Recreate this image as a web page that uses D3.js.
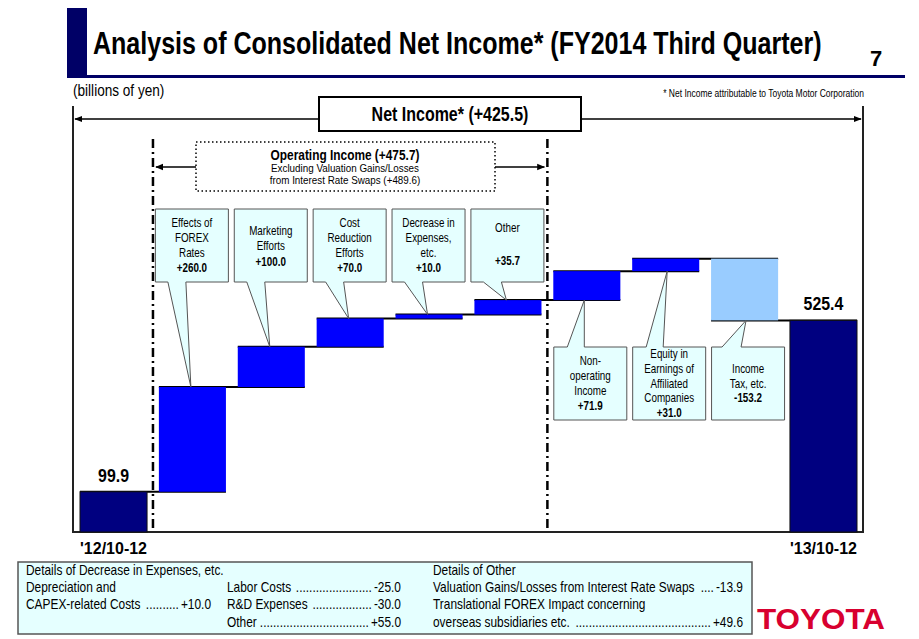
<!DOCTYPE html>
<html>
<head>
<meta charset="utf-8">
<script src="https://cdn.jsdelivr.net/npm/d3@7"></script>
<style>
  body { margin: 0; background: #fff; }
  text { font-family: "Liberation Sans", Arial, sans-serif; }
</style>
</head>
<body>
<div id="canvas"></div>
<script>
"use strict"

/* data (billions of yen) */
let categories = ["start", "forex", "marketing", "cost", "expenses", "other", "nonop", "equity", "tax", "end"];
let values = [99.9, 260.0, 100.0, 70.0, 10.0, 35.7, 71.9, 31.0, -153.2, 525.4];
let barKinds = ["total", "up", "up", "up", "up", "up", "up", "up", "down", "total"];
let periodLabels = ["'12/10-12", "'13/10-12"];

let calloutLines = [
  null,
  ["Effects of", "FOREX", "Rates"],
  ["Marketing", "Efforts"],
  ["Cost", "Reduction", "Efforts"],
  ["Decrease in", "Expenses,", "etc."],
  ["Other"],
  ["Non-", "operating", "Income"],
  ["Equity in", "Earnings of", "Affiliated", "Companies"],
  ["Income", "Tax, etc."],
  null
];
let calloutValues = [null, "+260.0", "+100.0", "+70.0", "+10.0", "+35.7", "+71.9", "+31.0", "-153.2", null];

/* details table: [label, value] */
let expenseDetails = [
  ["Depreciation and", ""],
  ["CAPEX-related Costs", "+10.0"]
];
let expenseDetails2 = [
  ["Labor Costs", "-25.0"],
  ["R&D Expenses", "-30.0"],
  ["Other", "+55.0"]
];
let otherDetails = [
  ["Valuation Gains/Losses from Interest Rate Swaps", "-13.9"],
  ["Translational FOREX Impact concerning", ""],
  ["overseas subsidiaries etc.", "+49.6"]
];

/* running totals for the waterfall */
let steps = [];
let running = 0;
values.forEach(function (v, i) {
  if (barKinds[i] === "total") {
    steps.push({ start: 0, end: v });
    running = v;
  } else {
    steps.push({ start: running, end: running + v });
    running += v;
  }
});

let drawing = d3.select("#canvas")
  .append("svg")
  .attr("width", 919)
  .attr("height", 639);

/* narrow text: regular font squeezed horizontally */
function ntext(px, py, str, size, opts) {
  opts = opts || {};
  let sx = opts.sx || 0.82;
  let t = drawing.append("text")
    .attr("transform", "translate(" + px + "," + py + ") scale(" + sx + ",1)")
    .attr("font-size", size)
    .attr("font-weight", opts.bold ? "bold" : "normal")
    .attr("text-anchor", opts.anchor || "start")
    .attr("fill", opts.fill || "#000")
    .text(str);
  return t;
}

let x = d3.scaleBand()
  .domain(categories)
  .range([80, 857])
  .paddingInner(0.15)
  .paddingOuter(0);

let y = d3.scaleLinear()
  .domain([0, 700])
  .range([532, 250]);

/* arrow marker */
let defs = drawing.append("defs");
defs.append("marker")
  .attr("id", "arrow")
  .attr("viewBox", "0 0 10 10")
  .attr("refX", 9)
  .attr("refY", 5)
  .attr("markerWidth", 8)
  .attr("markerHeight", 8)
  .attr("markerUnits", "userSpaceOnUse")
  .attr("orient", "auto-start-reverse")
  .append("path")
  .attr("d", "M0,1 L10,5 L0,9 Z")
  .attr("fill", "#000");

/* title block */
drawing.append("rect")
  .attr("x", 67).attr("y", 8)
  .attr("width", 20).attr("height", 68)
  .attr("fill", "#000066");

drawing.append("rect")
  .attr("x", 67).attr("y", 75)
  .attr("width", 838).attr("height", 3)
  .attr("fill", "#000066");

let title = ntext(93, 54, "Analysis of Consolidated Net Income* (FY2014 Third Quarter)", 31, { bold: true, sx: 1 });
let titleW = title.node().getComputedTextLength();
title.attr("transform", "translate(93,54) scale(" + (729 / titleW) + ",1)");

drawing.append("text")
  .attr("x", 870).attr("y", 66)
  .attr("font-size", 22)
  .attr("font-weight", "bold")
  .text("7");

ntext(73, 96, "(billions of yen)", 16, { sx: 0.85 });

ntext(864, 97, "* Net Income attributable to Toyota Motor Corporation", 10, { anchor: "end", sx: 0.85 });

/* frame */
drawing.append("path")
  .attr("d", "M73,106 L73,532 L863,532 L863,106")
  .attr("fill", "none")
  .attr("stroke", "#222")
  .attr("stroke-width", 2);

/* net income arrow and box */
drawing.append("line")
  .attr("x1", 318).attr("y1", 119).attr("x2", 75).attr("y2", 119)
  .attr("stroke", "#000").attr("stroke-width", 1.5)
  .attr("marker-end", "url(#arrow)");
drawing.append("line")
  .attr("x1", 581).attr("y1", 119).attr("x2", 861).attr("y2", 119)
  .attr("stroke", "#000").attr("stroke-width", 1.5)
  .attr("marker-end", "url(#arrow)");
drawing.append("rect")
  .attr("x", 319).attr("y", 97)
  .attr("width", 262).attr("height", 34)
  .attr("fill", "#fff")
  .attr("stroke", "#000")
  .attr("stroke-width", 2);
ntext(450, 121, "Net Income* (+425.5)", 19.5, { bold: true, anchor: "middle" });

/* operating income dash-dot boundaries */
let opLeft = (x("start") + x.bandwidth() + x("forex")) / 2;
let opRight = (x("other") + x.bandwidth() + x("nonop")) / 2;
[opLeft, opRight].forEach(function (lx) {
  drawing.append("line")
    .attr("x1", lx).attr("y1", 139)
    .attr("x2", lx).attr("y2", 531)
    .attr("stroke", "#000")
    .attr("stroke-width", 2.5)
    .attr("stroke-dasharray", "9,4,2,4");
});

/* operating income box */
drawing.append("line")
  .attr("x1", 196).attr("y1", 167).attr("x2", opLeft + 3).attr("y2", 167)
  .attr("stroke", "#000").attr("stroke-width", 1.5)
  .attr("marker-end", "url(#arrow)");
drawing.append("line")
  .attr("x1", 495).attr("y1", 167).attr("x2", opRight - 3).attr("y2", 167)
  .attr("stroke", "#000").attr("stroke-width", 1.5)
  .attr("marker-end", "url(#arrow)");
drawing.append("rect")
  .attr("x", 196).attr("y", 142)
  .attr("width", 299).attr("height", 49)
  .attr("fill", "#fff")
  .attr("stroke", "#000")
  .attr("stroke-width", 1.5)
  .attr("stroke-dasharray", "1.5,2.5");
ntext(345, 159.5, "Operating Income (+475.7)", 14.5, { bold: true, anchor: "middle" });
ntext(345, 172, "Excluding Valuation Gains/Losses", 11, { anchor: "middle", sx: 0.895 });
ntext(345, 184, "from Interest Rate Swaps (+489.6)", 11, { anchor: "middle", sx: 0.895 });

/* connector lines between bars */
for (let i = 0; i < categories.length - 1; i++) {
  drawing.append("line")
    .attr("x1", x(categories[i]))
    .attr("x2", x(categories[i + 1]) + x.bandwidth())
    .attr("y1", y(steps[i].end))
    .attr("y2", y(steps[i].end))
    .attr("stroke", "#000")
    .attr("stroke-width", 2);
}

/* bars */
let barColor = { total: "#000080", up: "#0000ff", down: "#99ccff" };
drawing.selectAll(".bar")
  .data(steps)
  .enter()
  .append("rect")
  .attr("class", "bar")
  .attr("x", function (d, i) { return x(categories[i]); })
  .attr("y", function (d) { return y(Math.max(d.start, d.end)); })
  .attr("width", x.bandwidth())
  .attr("height", function (d) { return Math.abs(y(d.start) - y(d.end)); })
  .attr("fill", function (d, i) { return barColor[barKinds[i]]; })
  .attr("stroke", function (d, i) { return barKinds[i] === "total" ? "#111" : "none"; })
  .attr("stroke-width", 1);

/* total labels and period labels */
[0, categories.length - 1].forEach(function (i, k) {
  let cx = x(categories[i]) + x.bandwidth() / 2;
  ntext(cx, y(steps[i].end) - 10, values[i].toFixed(1), 18.5, { bold: true, anchor: "middle", sx: 0.86 });
  drawing.append("text")
    .attr("x", cx).attr("y", 554)
    .attr("font-size", 16)
    .attr("font-weight", "bold")
    .attr("text-anchor", "middle")
    .text(periodLabels[k]);
});

/* callouts */
let calloutFill = "#e5ffff";
let calloutStroke = "#555";
for (let i = 1; i < categories.length - 1; i++) {
  let bx = x(categories[i]);
  let above = i <= 5;
  let lines = calloutLines[i];
  let boxX, boxY = above ? 209 : 347;
  let boxW = 73, boxH = 73;
  let path;
  if (above) {
    boxX = bx - 3.5;
    let tipY = y(Math.max(steps[i].start, steps[i].end));
    path = "M" + boxX + "," + boxY +
      " L" + (boxX + boxW) + "," + boxY +
      " L" + (boxX + boxW) + "," + (boxY + boxH) +
      " L" + (bx + 27) + "," + (boxY + boxH) +
      " L" + (bx + 32) + "," + tipY +
      " L" + (bx + 9) + "," + (boxY + boxH) +
      " L" + boxX + "," + (boxY + boxH) + " Z";
  } else {
    boxX = bx + 0.5;
    let tipY = y(Math.min(steps[i].start, steps[i].end));
    let tipX = i === 6 ? bx + 31 : bx + 35;
    let b0 = i === 8 ? bx + 11 : bx + 14;
    let b1 = i === 8 ? bx + 30 : bx + 31;
    path = "M" + boxX + "," + boxY +
      " L" + b0 + "," + boxY +
      " L" + tipX + "," + tipY +
      " L" + b1 + "," + boxY +
      " L" + (boxX + boxW) + "," + boxY +
      " L" + (boxX + boxW) + "," + (boxY + boxH) +
      " L" + boxX + "," + (boxY + boxH) + " Z";
  }
  drawing.append("path")
    .attr("d", path)
    .attr("fill", calloutFill)
    .attr("stroke", calloutStroke)
    .attr("stroke-width", 1);

  let cx = boxX + boxW / 2;
  let lineH = 14.8;
  let total = lines.length + 1;
  let firstY;
  if (i === 5) firstY = boxY + 23;
  else if (i === 2) firstY = boxY + 26;
  else firstY = boxY + boxH / 2 - (total - 1) * lineH / 2 + 4;
  let textStep = (i === 5) ? 33 : lineH;
  lines.forEach(function (t, j) {
    ntext(cx, firstY + j * textStep, t, 12, { anchor: "middle" });
  });
  ntext(cx, firstY + lines.length * textStep + (i === 2 ? 1.5 : 0), calloutValues[i], 12, { bold: true, anchor: "middle" });
}

/* details table */
drawing.append("rect")
  .attr("x", 18).attr("y", 562)
  .attr("width", 734).attr("height", 72)
  .attr("fill", "#e5ffff")
  .attr("stroke", "#555")
  .attr("stroke-width", 1.5);

let rowY = [575, 592, 609, 627];
let tableSize = 14, tableSx = 0.85;
ntext(26, rowY[0], "Details of Decrease in Expenses, etc.", tableSize, { sx: tableSx });
ntext(433, rowY[0], "Details of Other", tableSize, { sx: tableSx });

/* one table row: label, dotted leader, right-aligned value */
let dotProbe = ntext(0, -20, "..........", tableSize, { sx: tableSx });
let dotW = dotProbe.node().getComputedTextLength() * tableSx / 10;
dotProbe.remove();

function detailRows(rows, lx, rx, startRow) {
  rows.forEach(function (r, j) {
    let ry = rowY[startRow + j];
    let lab = ntext(lx, ry, r[0], tableSize, { sx: tableSx });
    if (!r[1]) return;
    let val = ntext(rx, ry, r[1], tableSize, { sx: tableSx, anchor: "end" });
    let labW = lab.node().getComputedTextLength() * tableSx;
    let valW = val.node().getComputedTextLength() * tableSx;
    let gap = (rx - valW - 2) - (lx + labW + 3);
    let n = Math.max(3, Math.floor(gap / dotW));
    ntext(rx - valW - 2, ry, ".".repeat(n), tableSize, { sx: tableSx, anchor: "end" });
  });
}
detailRows(expenseDetails, 26, 211, 1);
detailRows(expenseDetails2, 227, 401, 1);
detailRows(otherDetails, 433, 743, 1);

/* logo */
drawing.append("text")
  .attr("x", 757).attr("y", 629)
  .attr("font-size", 29)
  .attr("font-weight", "bold")
  .attr("fill", "#d8002f")
  .attr("textLength", 128)
  .attr("lengthAdjust", "spacingAndGlyphs")
  .text("TOYOTA");
</script>
</body>
</html>
